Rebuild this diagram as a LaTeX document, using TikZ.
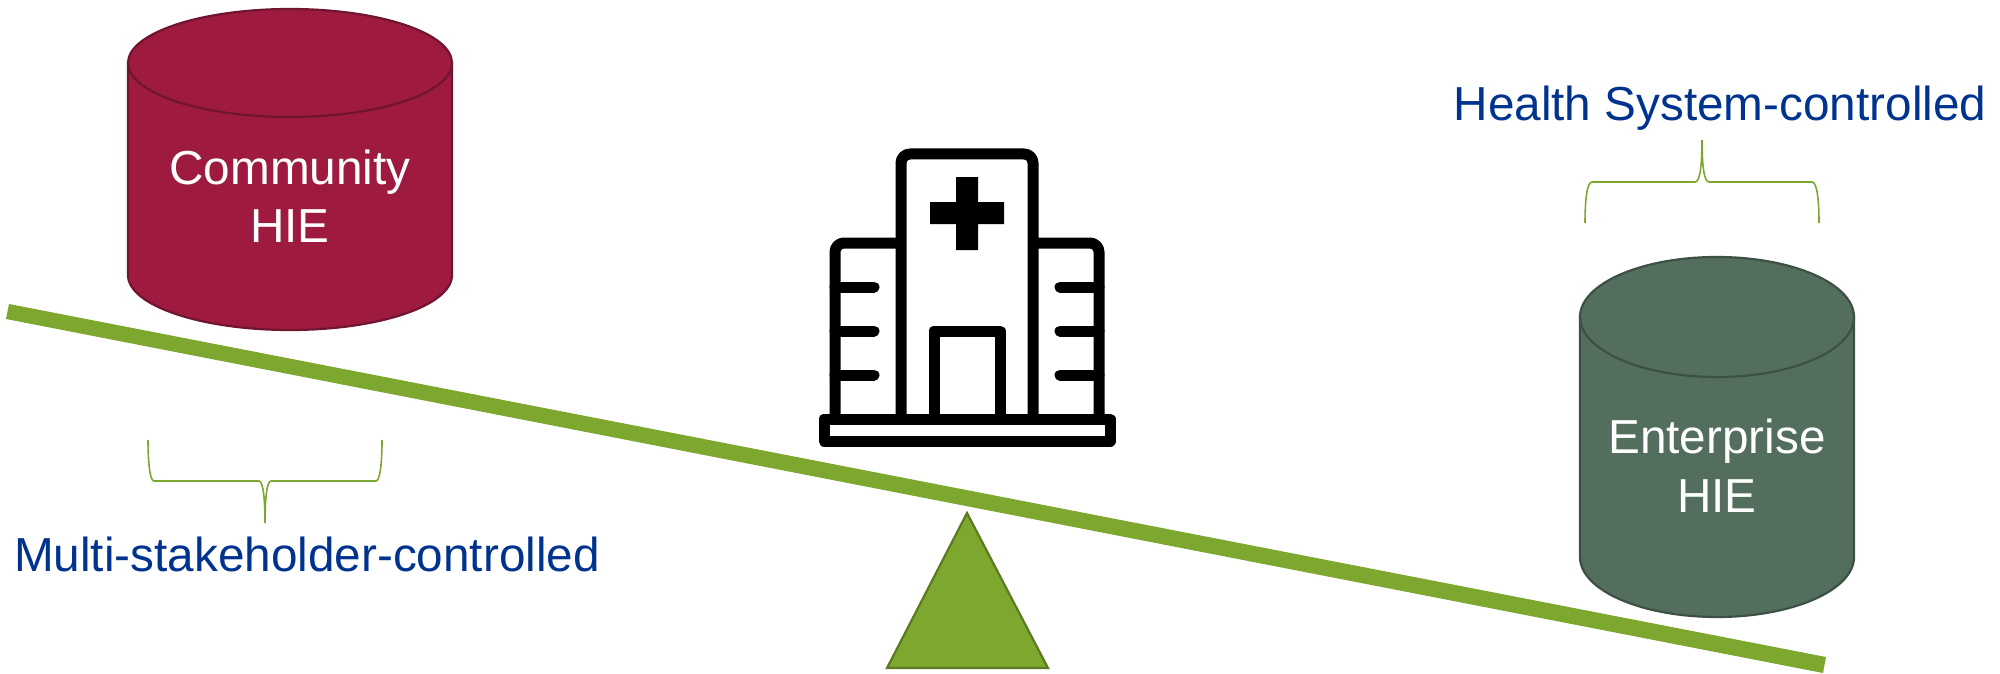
\documentclass[tikz,border=0pt]{standalone}
\usepackage{fontspec}
\setmainfont{Liberation Sans}
\definecolor{crim}{HTML}{9E1B3F}
\definecolor{crimd}{HTML}{70142F}
\definecolor{slate}{HTML}{546E5E}
\definecolor{slated}{HTML}{3D5044}
\definecolor{olive}{HTML}{7DA72F}
\definecolor{olived}{HTML}{5B7A22}
\definecolor{navy}{HTML}{00338D}
\tikzset{
  lbl/.style={anchor=base,inner sep=0pt,font=\fontsize{47.7}{57}\selectfont},
  whitelbl/.style={lbl,text=white},
  bluelbl/.style={lbl,text=navy},
  hosp/.style={draw=black,line width=11pt,line join=round},
  bracel/.style={draw=olive,line width=1.6pt},
}
\begin{document}
\begin{tikzpicture}[x=1pt,y=-1pt]
\useasboundingbox (0,0) rectangle (2000,674);
% community cylinder
\draw[fill=crim,draw=crimd,line width=2.2pt] (128,63) -- (128,275) arc[start angle=180,end angle=0,x radius=162,y radius=55] -- (452,63) arc[start angle=0,end angle=-180,x radius=162,y radius=54] -- cycle;
\draw[draw=crimd,line width=2.2pt] (128,63) arc[start angle=180,end angle=0,x radius=162,y radius=54];
\node[whitelbl] (c1) at (290,185) {Community};
\node[whitelbl] (c2) at (290,242) {HIE};
% enterprise cylinder
\draw[fill=slate,draw=slated,line width=2.2pt] (1580,317) -- (1580,557) arc[start angle=180,end angle=0,x radius=137,y radius=60] -- (1854,317) arc[start angle=0,end angle=-180,x radius=137,y radius=60] -- cycle;
\draw[draw=slated,line width=2.2pt] (1580,317) arc[start angle=180,end angle=0,x radius=137,y radius=60];
\node[whitelbl] (e1) at (1717,453) {Enterprise};
\node[whitelbl] (e2) at (1717,512) {HIE};
% beam and fulcrum
\fill[olive] (9,304) -- (1826,657) -- (1823,673) -- (6,319) -- cycle;
\draw[fill=olive,draw=olived,line width=2.2pt] (967,513) -- (1048,668) -- (887,668) -- cycle;
% hospital
\draw[hosp] (901,419) -- (901,163) arc[start angle=180,end angle=270,radius=9] -- (1024,154) arc[start angle=270,end angle=360,radius=9] -- (1033,419);
\draw[hosp] (901,243) -- (844,243) arc[start angle=270,end angle=180,radius=9] -- (835,419);
\draw[hosp] (1033,243) -- (1090,243) arc[start angle=270,end angle=360,radius=9] -- (1099,419);
\draw[hosp,line cap=round] (835,287) -- (874,287) (835,331) -- (874,331) (835,375) -- (874,375);
\draw[hosp,line cap=round] (1099,287) -- (1060,287) (1099,331) -- (1060,331) (1099,375) -- (1060,375);
\draw[hosp] (934,419) -- (934,331) -- (1000,331) -- (1000,419);
\draw[hosp] (824,419) rectangle (1110,441);
\fill[black] (956,177) rectangle (978,250) (930,202) rectangle (1004,224);
% top-right brace
\draw[bracel] (1585,223) .. controls (1585,200) and (1587,182) .. (1592,182) -- (1695,182) .. controls (1700,182) and (1702,165) .. (1702,140) .. controls (1702,165) and (1704,182) .. (1709,182) -- (1812,182) .. controls (1817,182) and (1819,200) .. (1819,223);
\node[bluelbl] (t1) at (1720,121) {Health System-controlled};
% bottom-left brace
\draw[bracel] (148,440) .. controls (148,463) and (150,481) .. (154,481) -- (259,481) .. controls (263,481) and (265,498) .. (265,523) .. controls (265,498) and (267,481) .. (271,481) -- (376,481) .. controls (380,481) and (382,463) .. (382,440);
\node[bluelbl] (t2) at (307,571) {Multi-stakeholder-controlled};
\end{tikzpicture}
\end{document}
